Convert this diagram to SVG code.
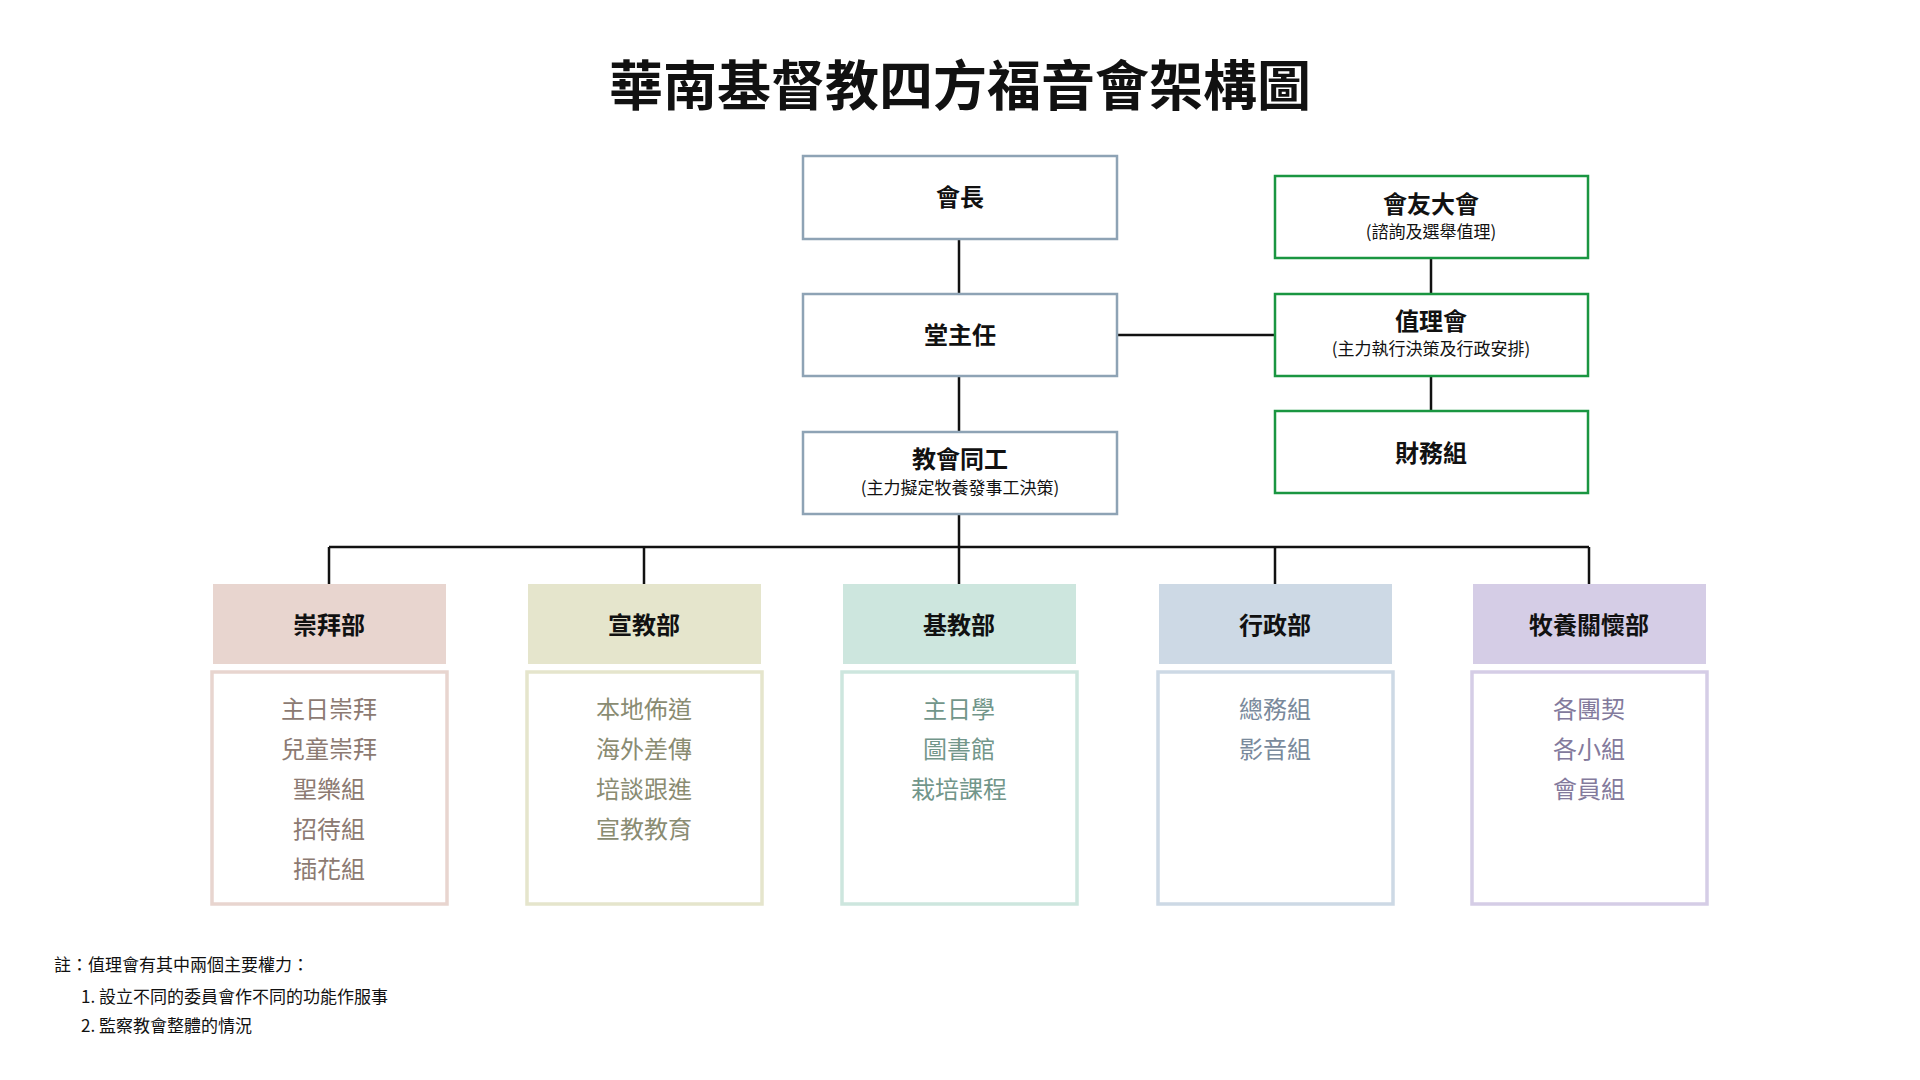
<svg xmlns="http://www.w3.org/2000/svg" width="1920" height="1080" viewBox="0 0 1920 1080">
<style>
text{font-family:"Noto Sans CJK TC","Noto Sans CJK SC",sans-serif;text-anchor:middle}
.t{font-size:24px;font-weight:bold;fill:#111}
.s{font-size:17px;fill:#111}
.b{fill:#fff;stroke:#8ea3b5;stroke-width:2.5}
.g{fill:#fff;stroke:#1a9641;stroke-width:2.5}
.l{font-size:24px}
.n{font-size:17px;fill:#111;text-anchor:start}
</style>
<rect width="1920" height="1080" fill="#fff"/>
<text x="960" y="106" style="font-size:54px;font-weight:bold;fill:#111">華南基督教四方福音會架構圖</text>
<g id="connectors" stroke="#111" stroke-width="2.5" fill="none">
<path d="M959 239V294M959 376V432M959 514V547M329 547H1589M329 547V584M644 547V584M959 547V584M1275 547V584M1589 547V584M1117 335H1275M1431 258V294M1431 376V411"/>
</g>
<g id="n1"><rect class="b" x="803" y="156" width="314" height="83"/><text class="t" x="960" y="206">會長</text></g>
<g id="n2"><rect class="b" x="803" y="294" width="314" height="82"/><text class="t" x="960" y="344">堂主任</text></g>
<g id="n3"><rect class="b" x="803" y="432" width="314" height="82"/><text class="t" x="960" y="468">教會同工</text><text class="s" x="960" y="494">(主力擬定牧養發事工決策)</text></g>
<g id="n4"><rect class="g" x="1275" y="176" width="313" height="82"/><text class="t" x="1431" y="213">會友大會</text><text class="s" x="1431" y="238">(諮詢及選舉值理)</text></g>
<g id="n5"><rect class="g" x="1275" y="294" width="313" height="82"/><text class="t" x="1431" y="330">值理會</text><text class="s" x="1431" y="355">(主力執行決策及行政安排)</text></g>
<g id="n6"><rect class="g" x="1275" y="411" width="313" height="82"/><text class="t" x="1431" y="462">財務組</text></g>
<g id="d1"><rect x="213" y="584" width="233" height="80" fill="#e8d5cf"/><text class="t" x="329" y="634">崇拜部</text>
<rect x="212" y="672" width="235" height="232" fill="#fff" stroke="#e8d5cf" stroke-width="3.5"/>
<g class="l" fill="#8c7a72"><text x="329" y="718">主日崇拜</text><text x="329" y="758">兒童崇拜</text><text x="329" y="798">聖樂組</text><text x="329" y="838">招待組</text><text x="329" y="878">插花組</text></g></g>
<g id="d2"><rect x="528" y="584" width="233" height="80" fill="#e5e5cc"/><text class="t" x="644" y="634">宣教部</text>
<rect x="527" y="672" width="235" height="232" fill="#fff" stroke="#e5e5cc" stroke-width="3.5"/>
<g class="l" fill="#8a8c72"><text x="644" y="718">本地佈道</text><text x="644" y="758">海外差傳</text><text x="644" y="798">培談跟進</text><text x="644" y="838">宣教教育</text></g></g>
<g id="d3"><rect x="843" y="584" width="233" height="80" fill="#cde6de"/><text class="t" x="959" y="634">基教部</text>
<rect x="842" y="672" width="235" height="232" fill="#fff" stroke="#cde6de" stroke-width="3.5"/>
<g class="l" fill="#72968a"><text x="959" y="718">主日學</text><text x="959" y="758">圖書館</text><text x="959" y="798">栽培課程</text></g></g>
<g id="d4"><rect x="1159" y="584" width="233" height="80" fill="#cdd9e5"/><text class="t" x="1275" y="634">行政部</text>
<rect x="1158" y="672" width="235" height="232" fill="#fff" stroke="#cdd9e5" stroke-width="3.5"/>
<g class="l" fill="#7a8a9c"><text x="1275" y="718">總務組</text><text x="1275" y="758">影音組</text></g></g>
<g id="d5"><rect x="1473" y="584" width="233" height="80" fill="#d5cde6"/><text class="t" x="1589" y="634">牧養關懷部</text>
<rect x="1472" y="672" width="235" height="232" fill="#fff" stroke="#d5cde6" stroke-width="3.5"/>
<g class="l" fill="#837a9c"><text x="1589" y="718">各團契</text><text x="1589" y="758">各小組</text><text x="1589" y="798">會員組</text></g></g>
<g id="note"><text class="n" x="54" y="971">註：值理會有其中兩個主要權力：</text><text class="n" x="81" y="1003">1. 設立不同的委員會作不同的功能作服事</text><text class="n" x="81" y="1032">2. 監察教會整體的情況</text></g>
</svg>
